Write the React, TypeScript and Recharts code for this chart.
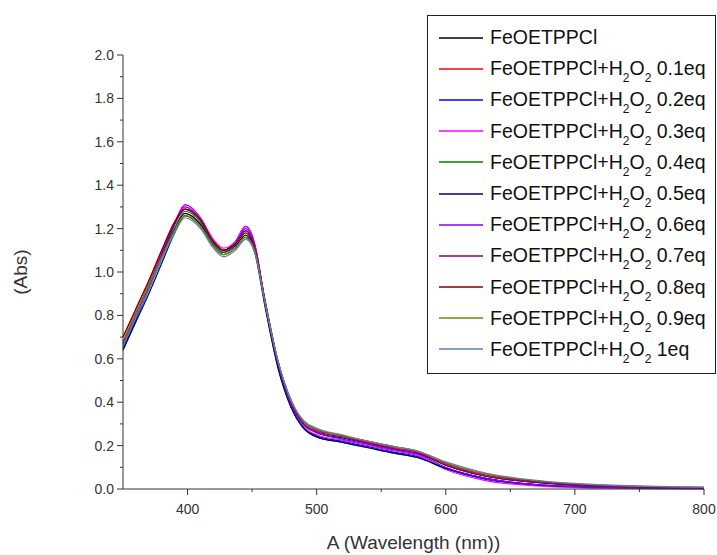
import React from 'react'
import { LineChart, Line, XAxis, YAxis, Legend } from 'recharts'

// wavelength grid (nm)
const wavelength = [350, 360, 370, 380, 390, 398, 410, 420, 428, 437, 445, 452, 460, 470, 480, 490, 500, 520, 540, 560, 578, 600, 630, 670, 720, 800]

// absorbance per titration step
const fe0 = [0.67, 0.80, 0.93, 1.07, 1.20, 1.27, 1.22, 1.13, 1.09, 1.12, 1.17, 1.10, 0.86, 0.58, 0.40, 0.30, 0.26, 0.235, 0.21, 0.185, 0.165, 0.11, 0.06, 0.03, 0.012, 0.004]
const fe01 = [0.70, 0.83, 0.96, 1.10, 1.23, 1.29, 1.24, 1.14, 1.10, 1.13, 1.19, 1.12, 0.87, 0.59, 0.41, 0.31, 0.27, 0.245, 0.215, 0.19, 0.17, 0.115, 0.065, 0.035, 0.016, 0.006]
const fe02 = [0.64, 0.78, 0.92, 1.07, 1.22, 1.31, 1.25, 1.14, 1.10, 1.14, 1.21, 1.13, 0.86, 0.57, 0.38, 0.28, 0.245, 0.22, 0.195, 0.17, 0.15, 0.095, 0.045, 0.018, 0.006, 0.002]
const fe03 = [0.66, 0.80, 0.94, 1.09, 1.23, 1.31, 1.25, 1.15, 1.11, 1.14, 1.21, 1.13, 0.86, 0.57, 0.38, 0.285, 0.25, 0.225, 0.20, 0.175, 0.155, 0.09, 0.04, 0.014, 0.004, 0.0]
const fe04 = [0.65, 0.79, 0.92, 1.06, 1.20, 1.28, 1.23, 1.13, 1.09, 1.13, 1.19, 1.11, 0.85, 0.56, 0.38, 0.28, 0.24, 0.215, 0.19, 0.165, 0.145, 0.095, 0.05, 0.02, 0.008, 0.003]
const fe05 = [0.64, 0.77, 0.90, 1.04, 1.18, 1.26, 1.21, 1.12, 1.08, 1.11, 1.16, 1.09, 0.84, 0.56, 0.38, 0.28, 0.24, 0.215, 0.19, 0.165, 0.145, 0.095, 0.05, 0.02, 0.008, 0.003]
const fe06 = [0.67, 0.81, 0.94, 1.08, 1.22, 1.30, 1.24, 1.14, 1.10, 1.13, 1.20, 1.12, 0.86, 0.58, 0.39, 0.295, 0.26, 0.23, 0.205, 0.18, 0.16, 0.10, 0.05, 0.02, 0.008, 0.003]
const fe07 = [0.68, 0.81, 0.94, 1.08, 1.22, 1.29, 1.24, 1.14, 1.10, 1.13, 1.19, 1.11, 0.86, 0.58, 0.40, 0.30, 0.265, 0.24, 0.21, 0.185, 0.165, 0.11, 0.06, 0.03, 0.013, 0.005]
const fe08 = [0.70, 0.83, 0.96, 1.10, 1.23, 1.29, 1.24, 1.14, 1.10, 1.13, 1.18, 1.11, 0.87, 0.59, 0.41, 0.31, 0.275, 0.245, 0.22, 0.195, 0.175, 0.12, 0.07, 0.036, 0.017, 0.007]
const fe09 = [0.68, 0.81, 0.94, 1.07, 1.19, 1.26, 1.21, 1.12, 1.08, 1.11, 1.16, 1.10, 0.86, 0.59, 0.41, 0.31, 0.275, 0.245, 0.22, 0.195, 0.175, 0.12, 0.07, 0.038, 0.018, 0.008]
const fe10 = [0.66, 0.79, 0.92, 1.06, 1.18, 1.25, 1.20, 1.11, 1.07, 1.10, 1.15, 1.09, 0.86, 0.59, 0.41, 0.315, 0.28, 0.25, 0.22, 0.195, 0.175, 0.125, 0.075, 0.04, 0.02, 0.009]

const seriesValues = [fe0, fe01, fe02, fe03, fe04, fe05, fe06, fe07, fe08, fe09, fe10]
const equivalents = ['', '0.1eq', '0.2eq', '0.3eq', '0.4eq', '0.5eq', '0.6eq', '0.7eq', '0.8eq', '0.9eq', '1eq']
const colors = ['#000000', '#ff0000', '#0000ff', '#ff00ff', '#008000', '#000080', '#8000ff', '#800080', '#800000', '#808000', '#5b82b8']

const yTicks = [0, 0.1, 0.2, 0.3, 0.4, 0.5, 0.6, 0.7, 0.8, 0.9, 1.0, 1.1, 1.2, 1.3, 1.4, 1.5, 1.6, 1.7, 1.8, 1.9, 2.0]
const xTicks = [400, 450, 500, 550, 600, 650, 700, 750, 800]

const data = wavelength.map((w, i) => {
  const row: Record<string, number> = { w }
  seriesValues.forEach((s, k) => {
    row['s' + k] = s[i]
  })
  return row
})

const font = 'Arial, "Liberation Sans", sans-serif'

function YTick(props: any) {
  const { x, y, payload } = props
  const v = payload.value
  const major = Math.round(v * 10) % 2 === 0
  return (
    <g>
      <line x1={x - (major ? 6 : 3)} x2={x} y1={y} y2={y} stroke="#333" />
      {major && (
        <text x={x - 9} y={y + 5} textAnchor="end" fontSize={14} fontFamily={font} fill="#333">
          {v.toFixed(1)}
        </text>
      )}
    </g>
  )
}

function XTick(props: any) {
  const { x, y, payload } = props
  const v = payload.value
  const major = v % 100 === 0
  return (
    <g>
      <line x1={x} x2={x} y1={y} y2={y + (major ? 6 : 3)} stroke="#333" />
      {major && (
        <text x={x} y={y + 25} textAnchor="middle" fontSize={14} fontFamily={font} fill="#333">
          {v}
        </text>
      )}
    </g>
  )
}

const subStyle = { fontSize: 12, verticalAlign: -7, lineHeight: 0 }

function LegendBox() {
  return (
    <div
      style={{
        width: 287,
        height: 351,
        border: '1px solid #222',
        background: '#fff',
        boxSizing: 'content-box',
        paddingTop: 6,
        fontFamily: font,
        fontSize: 19.5,
        color: '#111',
      }}
    >
      {equivalents.map((eq, k) => (
        <div key={k} style={{ height: 31.2, display: 'flex', alignItems: 'center', whiteSpace: 'nowrap' }}>
          <svg width={44} height={4} style={{ marginLeft: 11, flexShrink: 0, display: 'block' }}>
            <line x1={0} x2={44} y1={2} y2={2} stroke={colors[k]} strokeWidth={1.5} />
          </svg>
          <span style={{ marginLeft: 7 }}>
            FeOETPPCl
            {eq && (
              <>
                +H<sub style={subStyle}>2</sub>O<sub style={subStyle}>2</sub> {eq}
              </>
            )}
          </span>
        </div>
      ))}
    </div>
  )
}

export default function App() {
  return (
    <div style={{ position: 'absolute', left: 0, top: 0, width: 717, height: 555, background: '#fff' }}>
      <LineChart width={717} height={555} data={data} margin={{ top: 55, right: 13, left: 0, bottom: 0 }}>
        <XAxis
          dataKey="w"
          type="number"
          domain={[350, 800]}
          ticks={xTicks}
          interval={0}
          height={66}
          tickSize={0}
          tickMargin={0}
          tick={<XTick />}
          axisLine={{ stroke: '#333' }}
          label={{
            value: 'A (Wavelength (nm))',
            position: 'insideBottom',
            offset: 6,
            fontSize: 19,
            fontFamily: font,
            fill: '#333',
          }}
        />
        <YAxis
          type="number"
          domain={[0, 2]}
          ticks={yTicks}
          interval={0}
          width={123}
          tickSize={0}
          tickMargin={0}
          tick={<YTick />}
          axisLine={{ stroke: '#333' }}
          label={{
            value: '(Abs)',
            angle: -90,
            position: 'insideLeft',
            offset: 20,
            fontSize: 19,
            fontFamily: font,
            fill: '#333',
            style: { textAnchor: 'middle' },
          }}
        />
        <Legend
          layout="vertical"
          align="center"
          verticalAlign="middle"
          wrapperStyle={{ left: 427, top: 15, width: 289, height: 358 }}
          content={() => <LegendBox />}
        />
        {seriesValues.map((_, k) => (
          <Line
            key={k}
            type="monotone"
            dataKey={'s' + k}
            stroke={colors[k]}
            strokeWidth={1.2}
            dot={false}
            isAnimationActive={false}
          />
        ))}
      </LineChart>
    </div>
  )
}
